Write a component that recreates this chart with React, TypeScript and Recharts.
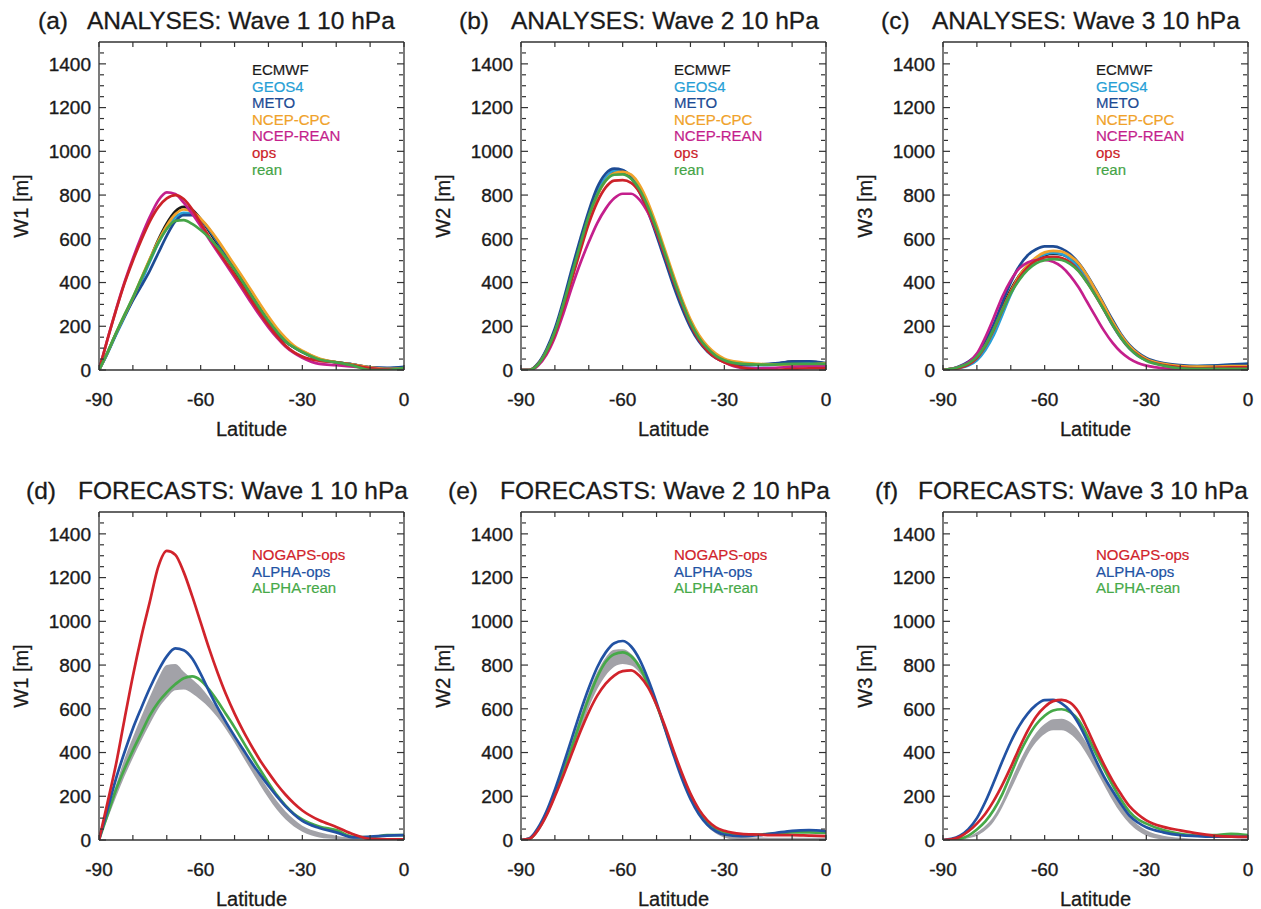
import React from "react";
import { ComposedChart, Line, Area, XAxis, YAxis, Legend } from "recharts";

// latitude grid shared by every panel
const LAT = [-90, -87.5, -85, -82.5, -80, -77.5, -75, -72.5, -70, -67.5, -65, -62.5, -60, -57.5, -55, -52.5, -50, -47.5, -45, -42.5, -40, -37.5, -35, -32.5, -30, -25, -20, -15, -10, -5, 0];

// (a) analyses, wave 1
const A_ECMWF = [0, 80, 165, 245, 325, 415, 505, 595, 670, 725, 746, 732, 690, 635, 575, 515, 455, 390, 325, 265, 210, 165, 130, 105, 85, 50, 35, 25, 12, 5, 8];
const A_GEOS4 = [0, 75, 160, 240, 320, 405, 495, 580, 648, 698, 719, 715, 688, 642, 585, 525, 465, 405, 340, 280, 222, 172, 132, 105, 82, 48, 35, 25, 12, 8, 12];
const A_METO = [0, 78, 165, 245, 318, 385, 455, 535, 615, 680, 708, 708, 688, 645, 588, 528, 468, 405, 342, 280, 222, 172, 132, 103, 82, 48, 35, 25, 12, 10, 15];
const A_CPC = [0, 80, 168, 250, 330, 420, 508, 590, 660, 712, 734, 724, 692, 648, 595, 538, 480, 422, 362, 302, 245, 192, 148, 112, 88, 52, 36, 25, 12, 5, 8];
const A_NREAN = [0, 140, 275, 400, 510, 610, 700, 775, 812, 805, 765, 715, 658, 598, 540, 482, 424, 365, 305, 248, 195, 148, 108, 78, 56, 28, 22, 15, 8, 2, 5];
const A_OPS = [0, 140, 272, 395, 500, 595, 680, 745, 785, 800, 782, 735, 672, 610, 550, 492, 436, 378, 318, 260, 205, 155, 112, 82, 62, 42, 35, 22, 8, 2, 2];
const A_REAN = [0, 80, 168, 252, 332, 418, 502, 582, 645, 682, 685, 668, 640, 605, 562, 512, 458, 400, 340, 280, 225, 175, 132, 104, 82, 48, 35, 20, 0, 0, 10];

// (b) analyses, wave 2
const B_ECMWF = [0, 0, 25, 85, 172, 295, 430, 568, 700, 800, 870, 905, 905, 880, 822, 735, 630, 518, 402, 298, 212, 145, 98, 65, 45, 28, 25, 28, 38, 38, 28];
const B_GEOS4 = [0, 0, 28, 90, 180, 305, 445, 585, 715, 815, 880, 912, 912, 885, 825, 740, 637, 522, 408, 302, 212, 142, 95, 62, 42, 25, 22, 25, 32, 32, 25];
const B_METO = [0, 0, 30, 95, 190, 318, 462, 600, 728, 835, 898, 921, 915, 880, 812, 722, 615, 500, 385, 282, 195, 130, 85, 55, 38, 22, 25, 30, 38, 40, 32];
const B_CPC = [0, 0, 25, 85, 172, 295, 428, 565, 695, 798, 866, 900, 906, 893, 845, 765, 662, 548, 433, 325, 232, 160, 110, 75, 52, 35, 28, 25, 25, 25, 30];
const B_NREAN = [0, 0, 20, 70, 150, 258, 378, 488, 585, 672, 738, 785, 806, 806, 778, 718, 630, 522, 412, 308, 215, 142, 92, 58, 35, 10, 8, 10, 15, 18, 18];
const B_OPS = [0, 0, 25, 80, 165, 285, 415, 545, 670, 768, 835, 866, 868, 856, 812, 732, 632, 522, 408, 303, 210, 138, 88, 55, 35, 12, 0, 0, 5, 8, 8];
const B_REAN = [0, 0, 25, 85, 175, 300, 438, 575, 705, 802, 866, 893, 895, 875, 825, 745, 645, 533, 418, 310, 218, 148, 100, 65, 45, 28, 25, 25, 28, 28, 28];

// (c) analyses, wave 3
const C_ECMWF = [0, 5, 15, 30, 62, 118, 195, 285, 368, 432, 478, 508, 525, 532, 528, 508, 472, 420, 355, 285, 215, 155, 105, 72, 48, 28, 18, 15, 15, 18, 18];
const C_GEOS4 = [0, 3, 10, 20, 45, 92, 160, 252, 345, 422, 475, 510, 528, 535, 530, 508, 468, 412, 345, 275, 205, 145, 98, 65, 45, 25, 18, 18, 20, 25, 28];
const C_METO = [0, 5, 18, 38, 70, 130, 210, 308, 400, 475, 525, 552, 565, 565, 555, 530, 490, 435, 370, 300, 230, 165, 115, 80, 55, 32, 22, 18, 20, 25, 28];
const C_CPC = [0, 5, 15, 30, 60, 112, 185, 275, 360, 430, 480, 515, 538, 545, 542, 522, 488, 432, 365, 295, 222, 160, 110, 75, 50, 28, 18, 15, 15, 18, 18];
const C_NREAN = [0, 5, 15, 35, 75, 150, 240, 335, 410, 465, 492, 503, 503, 495, 472, 432, 378, 312, 245, 180, 125, 82, 52, 32, 20, 8, 5, 5, 5, 8, 10];
const C_OPS = [0, 3, 10, 25, 55, 110, 185, 272, 355, 422, 470, 500, 515, 518, 512, 492, 455, 402, 340, 275, 208, 148, 100, 68, 45, 22, 12, 8, 10, 12, 12];
const C_REAN = [0, 5, 15, 30, 60, 112, 188, 272, 350, 412, 458, 488, 502, 507, 503, 485, 452, 400, 340, 275, 208, 148, 100, 65, 42, 20, 8, 5, 5, 5, 5];

// (d) forecasts, wave 1
const D_NOGAPS = [0, 170, 345, 550, 750, 930, 1090, 1250, 1322, 1305, 1225, 1115, 995, 875, 765, 665, 578, 500, 430, 365, 308, 255, 208, 168, 135, 90, 60, 26, 5, 3, 3];
const D_AOPS = [0, 140, 280, 400, 510, 605, 695, 775, 840, 876, 868, 830, 760, 680, 605, 538, 475, 415, 355, 300, 248, 200, 155, 118, 87, 55, 35, 12, 15, 20, 22];
const D_AREAN = [0, 115, 230, 325, 410, 490, 570, 630, 675, 712, 740, 748, 730, 688, 635, 575, 515, 450, 385, 322, 262, 205, 158, 120, 94, 62, 45, 15, 12, 22, 22];
const D_SPREAD_HI = [0, 125, 250, 370, 470, 565, 655, 740, 800, 805, 770, 735, 700, 652, 598, 540, 480, 415, 350, 290, 232, 178, 132, 95, 65, 35, 20, 10, 8, 8, 8];
const D_SPREAD_LO = [0, 95, 195, 290, 375, 455, 530, 600, 650, 685, 688, 670, 640, 605, 560, 505, 445, 380, 315, 252, 192, 138, 95, 62, 38, 12, 5, 3, 3, 3, 3];

// (e) forecasts, wave 2
const E_NOGAPS = [0, 5, 45, 112, 200, 295, 395, 495, 585, 660, 715, 752, 772, 776, 750, 698, 618, 520, 410, 305, 212, 140, 90, 58, 42, 28, 25, 22, 22, 20, 18];
const E_AOPS = [0, 8, 55, 130, 230, 345, 465, 585, 695, 790, 858, 900, 910, 885, 825, 735, 628, 508, 390, 280, 188, 118, 70, 40, 25, 18, 22, 32, 42, 45, 40];
const E_AREAN = [0, 5, 48, 118, 210, 315, 425, 540, 650, 745, 815, 850, 858, 840, 790, 712, 618, 510, 400, 295, 205, 135, 85, 52, 35, 25, 25, 30, 35, 35, 32];
const E_SPREAD_HI = [0, 5, 50, 122, 218, 330, 445, 565, 675, 768, 835, 870, 872, 852, 805, 730, 635, 525, 410, 300, 205, 130, 78, 45, 28, 15, 12, 10, 10, 10, 10];
const E_SPREAD_LO = [0, 0, 35, 100, 190, 290, 392, 500, 605, 690, 752, 792, 805, 798, 765, 702, 615, 505, 390, 282, 188, 115, 62, 30, 12, 0, 0, 0, 0, 0, 0];

// (f) forecasts, wave 3
const F_NOGAPS = [0, 3, 15, 40, 75, 120, 180, 252, 333, 420, 500, 565, 608, 635, 641, 628, 585, 510, 425, 345, 273, 210, 155, 118, 90, 60, 44, 30, 20, 15, 14];
const F_AOPS = [0, 5, 20, 50, 100, 175, 265, 360, 448, 522, 578, 618, 640, 641, 625, 590, 532, 455, 368, 290, 225, 165, 112, 80, 58, 35, 22, 18, 15, 15, 14];
const F_AREAN = [0, 0, 5, 20, 48, 85, 138, 210, 300, 392, 468, 528, 568, 592, 598, 585, 548, 480, 400, 325, 252, 185, 130, 95, 75, 45, 28, 20, 22, 28, 22];
const F_SPREAD_HI = [0, 0, 2, 15, 35, 65, 110, 180, 270, 355, 430, 490, 530, 552, 555, 540, 500, 440, 370, 295, 222, 158, 105, 70, 45, 20, 10, 5, 5, 5, 5];
const F_SPREAD_LO = [0, 0, 0, 8, 20, 45, 85, 150, 230, 312, 390, 448, 485, 502, 502, 485, 448, 390, 322, 252, 182, 122, 75, 42, 20, 3, 0, 0, 0, 0, 0];

const X_LABELS = [-90, -60, -30, 0];
const X_TICKS = [-90, -80, -70, -60, -50, -40, -30, -20, -10, 0];
const Y_LABELS = [0, 200, 400, 600, 800, 1000, 1200, 1400];
const Y_MINOR = [50, 100, 150, 250, 300, 350, 450, 500, 550, 650, 700, 750, 850, 900, 950, 1050, 1100, 1150, 1250, 1300, 1350, 1450];

const FONT = '"Liberation Sans", Arial, Helvetica, sans-serif';
const INK = "#1a1a1a";
const FRAME = "#333";
const blank = () => "";

type Series = { key: string; name: string; color: string; values: number[] };

const analyses = (v: number[][]): Series[] => [
  { key: "ecmwf", name: "ECMWF", color: "#1a1a1a", values: v[0] },
  { key: "geos4", name: "GEOS4", color: "#279fd6", values: v[1] },
  { key: "meto", name: "METO", color: "#1d4b94", values: v[2] },
  { key: "cpc", name: "NCEP-CPC", color: "#f0a22a", values: v[3] },
  { key: "nrean", name: "NCEP-REAN", color: "#c41f8c", values: v[4] },
  { key: "ops", name: "ops", color: "#cc2229", values: v[5] },
  { key: "rean", name: "rean", color: "#45a447", values: v[6] },
];

const forecasts = (v: number[][]): Series[] => [
  { key: "nogaps", name: "NOGAPS-ops", color: "#d1232b", values: v[0] },
  { key: "aops", name: "ALPHA-ops", color: "#2252a3", values: v[1] },
  { key: "arean", name: "ALPHA-rean", color: "#46a948", values: v[2] },
];

type PanelProps = {
  left: number;
  top: number;
  tag: string;
  tagX: number;
  title: string;
  titleX: number;
  yLabel: string;
  series: Series[];
  drawOrder: number[];
  spread?: [number[], number[]];
};

function Panel({ left, top, tag, tagX, title, titleX, yLabel, series, drawOrder, spread }: PanelProps) {
  const data = LAT.map((lat, i) => {
    const row: any = { lat };
    series.forEach((s) => (row[s.key] = s.values[i]));
    if (spread) row.spread = [spread[1][i], spread[0][i]];
    return row;
  });

  const titleStyle: React.CSSProperties = {
    position: "absolute",
    top: top - 33,
    fontFamily: FONT,
    fontSize: 24.5,
    lineHeight: "24.5px",
    color: INK,
    whiteSpace: "nowrap",
    WebkitTextStroke: "0.3px #1a1a1a",
  };
  const tickFont = { fontSize: 19, fill: INK, fontFamily: FONT, stroke: INK, strokeWidth: 0.35 };

  return (
    <>
      <div style={{ ...titleStyle, left: tagX }}>{tag}</div>
      <div style={{ ...titleStyle, left: titleX }}>{title}</div>
      <div style={{ position: "absolute", left: left - 166, top: top - 40 }}>
        <ComposedChart width={491} height={446} data={data} margin={{ top: 40, right: 20, bottom: 0, left: 10 }}>
          <XAxis
            xAxisId="x"
            dataKey="lat"
            type="number"
            domain={[-90, 0]}
            allowDataOverflow
            ticks={X_LABELS}
            height={78}
            tickSize={0}
            tickMargin={23}
            tickLine={false}
            axisLine={{ stroke: FRAME, strokeWidth: 1.3 }}
            tick={tickFont}
            label={{ value: "Latitude", position: "insideBottom", offset: 12, fontSize: 20, fill: INK, fontFamily: FONT, stroke: INK, strokeWidth: 0.3 }}
          />
          <XAxis xAxisId="xb" dataKey="lat" type="number" domain={[-90, 0]} allowDataOverflow ticks={X_TICKS} orientation="bottom" mirror height={1} tickFormatter={blank} tickSize={5} tickLine={{ stroke: FRAME, strokeWidth: 1.2 }} axisLine={false} />
          <XAxis xAxisId="xt" dataKey="lat" type="number" domain={[-90, 0]} allowDataOverflow ticks={X_TICKS} orientation="top" mirror height={1} tickFormatter={blank} tickSize={5} tickLine={{ stroke: FRAME, strokeWidth: 1.2 }} axisLine={{ stroke: FRAME, strokeWidth: 1.3 }} />
          <YAxis
            yAxisId="y"
            type="number"
            domain={[0, 1500]}
            allowDataOverflow
            ticks={Y_LABELS}
            width={156}
            tickSize={0}
            tickMargin={8}
            tickLine={false}
            axisLine={{ stroke: FRAME, strokeWidth: 1.3 }}
            tick={tickFont}
            label={{ value: yLabel, angle: -90, position: "center", fontSize: 20, fill: INK, fontFamily: FONT, stroke: INK, strokeWidth: 0.3 }}
          />
          <YAxis yAxisId="yl" type="number" domain={[0, 1500]} allowDataOverflow ticks={Y_LABELS} orientation="left" mirror width={1} tickFormatter={blank} tickSize={7} tickLine={{ stroke: FRAME, strokeWidth: 1.2 }} axisLine={false} />
          <YAxis yAxisId="ylm" type="number" domain={[0, 1500]} allowDataOverflow ticks={Y_MINOR} orientation="left" mirror width={1} tickFormatter={blank} tickSize={4} tickLine={{ stroke: FRAME, strokeWidth: 1.2 }} axisLine={false} />
          <YAxis yAxisId="yr" type="number" domain={[0, 1500]} allowDataOverflow ticks={Y_LABELS} orientation="right" mirror width={1} tickFormatter={blank} tickSize={7} tickLine={{ stroke: FRAME, strokeWidth: 1.2 }} axisLine={{ stroke: FRAME, strokeWidth: 1.3 }} />
          <YAxis yAxisId="yrm" type="number" domain={[0, 1500]} allowDataOverflow ticks={Y_MINOR} orientation="right" mirror width={1} tickFormatter={blank} tickSize={4} tickLine={{ stroke: FRAME, strokeWidth: 1.2 }} axisLine={false} />

          {spread && (
            <Area
              xAxisId="x"
              yAxisId="y"
              dataKey="spread"
              type="monotone"
              stroke="none"
              fill="#a2a2a8"
              fillOpacity={1}
              legendType="none"
              isAnimationActive={false}
            />
          )}
          {drawOrder.map((i) => {
            const s = series[i];
            return (
              <Line
                key={s.key}
                xAxisId="x"
                yAxisId="y"
                dataKey={s.key}
                name={s.name}
                type="monotone"
                stroke={s.color}
                strokeWidth={2.7}
                dot={false}
                activeDot={false}
                isAnimationActive={false}
              />
            );
          })}
          <Legend
            layout="vertical"
            align="center"
            verticalAlign="middle"
            wrapperStyle={{ left: 166 + 153, top: spread ? 75 : 60, width: 150, height: "auto" }}
            content={() => (
              <div style={{ fontFamily: FONT, fontSize: 15, lineHeight: "16.6px", WebkitTextStroke: "0.2px currentColor" }}>
                {series.map((s) => (
                  <div key={s.key} style={{ color: s.color }}>
                    {s.name}
                  </div>
                ))}
              </div>
            )}
          />
        </ComposedChart>
      </div>
    </>
  );
}

export default function App() {
  return (
    <div style={{ position: "absolute", left: 0, top: 0, width: 1261, height: 909, background: "#fff", overflow: "hidden" }}>
      <Panel left={99} top={42} tag="(a)" tagX={38} title="ANALYSES: Wave 1 10 hPa" titleX={87} yLabel="W1 [m]"
        series={analyses([A_ECMWF, A_GEOS4, A_METO, A_CPC, A_NREAN, A_OPS, A_REAN])} drawOrder={[0, 1, 2, 3, 4, 5, 6]} />
      <Panel left={521} top={42} tag="(b)" tagX={459} title="ANALYSES: Wave 2 10 hPa" titleX={511} yLabel="W2 [m]"
        series={analyses([B_ECMWF, B_GEOS4, B_METO, B_CPC, B_NREAN, B_OPS, B_REAN])} drawOrder={[0, 1, 2, 3, 4, 5, 6]} />
      <Panel left={943} top={42} tag="(c)" tagX={881} title="ANALYSES: Wave 3 10 hPa" titleX={932} yLabel="W3 [m]"
        series={analyses([C_ECMWF, C_GEOS4, C_METO, C_CPC, C_NREAN, C_OPS, C_REAN])} drawOrder={[0, 1, 2, 3, 4, 5, 6]} />
      <Panel left={99} top={512} tag="(d)" tagX={26} title="FORECASTS: Wave 1 10 hPa" titleX={78} yLabel="W1 [m]"
        series={forecasts([D_NOGAPS, D_AOPS, D_AREAN])} drawOrder={[2, 1, 0]} spread={[D_SPREAD_HI, D_SPREAD_LO]} />
      <Panel left={521} top={512} tag="(e)" tagX={448} title="FORECASTS: Wave 2 10 hPa" titleX={500} yLabel="W2 [m]"
        series={forecasts([E_NOGAPS, E_AOPS, E_AREAN])} drawOrder={[2, 1, 0]} spread={[E_SPREAD_HI, E_SPREAD_LO]} />
      <Panel left={943} top={512} tag="(f)" tagX={875} title="FORECASTS: Wave 3 10 hPa" titleX={918} yLabel="W3 [m]"
        series={forecasts([F_NOGAPS, F_AOPS, F_AREAN])} drawOrder={[2, 1, 0]} spread={[F_SPREAD_HI, F_SPREAD_LO]} />
    </div>
  );
}
